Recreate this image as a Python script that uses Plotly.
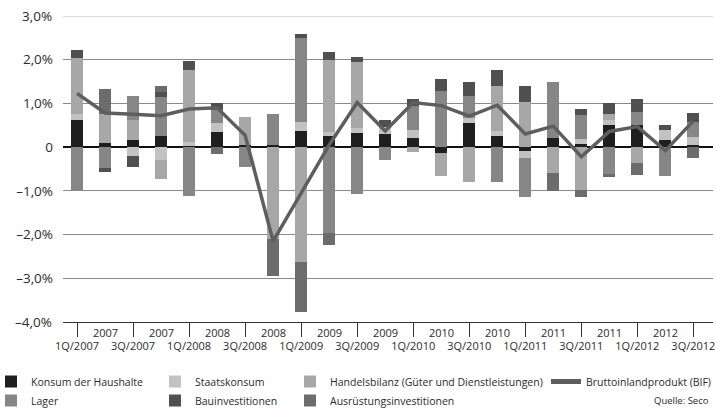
import plotly.graph_objects as go

# Quarterly contributions to Swiss GDP growth (percentage points)
quarters = [
    "1Q/2007", "2Q/2007", "3Q/2007", "4Q/2007",
    "1Q/2008", "2Q/2008", "3Q/2008", "4Q/2008",
    "1Q/2009", "2Q/2009", "3Q/2009", "4Q/2009",
    "1Q/2010", "2Q/2010", "3Q/2010", "4Q/2010",
    "1Q/2011", "2Q/2011", "3Q/2011", "4Q/2011",
    "1Q/2012", "2Q/2012", "3Q/2012",
]
year_labels = ["2007", "2007", "2008", "2008", "2009", "2009",
               "2010", "2010", "2011", "2011", "2012"]

konsum = [0.63, 0.10, 0.17, 0.25, 0.03, 0.35, 0.06, 0.06, 0.37, 0.25, 0.32, 0.29,
          0.21, -0.13, 0.56, 0.25, -0.09, 0.20, 0.08, 0.50, 0.50, 0.17, 0.05]
staat = [0.12, 0.00, -0.20, -0.30, 0.08, 0.20, 0.00, 0.00, 0.20, 0.10, 0.12, 0.16,
         0.19, 0.00, 0.10, 0.12, -0.16, 0.00, 0.10, 0.13, 0.00, 0.22, 0.19]
handel = [1.30, 0.65, 0.45, -0.43, 1.66, 0.00, 0.64, -2.11, -2.63, 1.65, 1.50, 0.00,
          -0.10, -0.52, -0.80, 1.03, 1.03, -0.60, -0.98, 0.12, -0.36, 0.00, 0.00]
lager = [-1.00, -0.47, 0.55, 0.90, -1.12, 0.30, -0.45, 0.69, 1.92, -1.96, -1.08, -0.30,
         0.54, 1.28, 0.50, -0.80, -0.90, 1.30, 0.55, -0.62, 0.30, -0.66, 0.34]
bau = [0.17, -0.09, -0.25, 0.11, 0.21, 0.15, 0.00, 0.00, 0.09, 0.17, 0.12, 0.17,
       0.17, 0.28, 0.34, 0.37, 0.37, 0.00, 0.15, 0.27, 0.30, 0.12, 0.20]
ausruestung = [0.00, 0.59, 0.00, 0.14, 0.00, -0.15, 0.00, -0.84, -1.13, -0.27, 0.00, 0.00,
               0.00, 0.00, 0.00, 0.00, 0.00, -0.40, -0.15, -0.06, -0.28, 0.00, -0.24]
bip = [1.23, 0.78, 0.75, 0.72, 0.87, 0.90, 0.27, -2.15, -1.05, 0.05, 1.02, 0.37,
       1.02, 0.95, 0.71, 0.96, 0.30, 0.48, -0.22, 0.36, 0.47, -0.08, 0.60]

y_ticks = [3, 2, 1, 0, -1, -2, -3, -4]
y_tick_text = ["3,0%", "2,0%", "1,0%", "0", "–1,0%", "–2,0%", "–3,0%", "–4,0%"]

FONT = "Open Sans"
TXT = "#2b2b2b"
x = list(range(len(quarters)))

series = [
    ("Konsum der Haushalte", konsum, "#1f1f1f", "legend"),
    ("Staatskonsum", staat, "#c2c2c2", "legend2"),
    ("Handelsbilanz (Güter und Dienstleistungen)", handel, "#a7a7a7", "legend3"),
    ("Lager", lager, "#868686", "legend"),
    ("Bauinvestitionen", bau, "#505050", "legend2"),
    ("Ausrüstungsinvestitionen", ausruestung, "#6c6c6c", "legend3"),
]

fig = go.Figure()
for name, vals, color, leg in series:
    fig.add_trace(go.Bar(
        x=x, y=vals, name=name, width=0.43,
        marker=dict(color=color, line=dict(width=0)),
        legend=leg,
    ))

fig.add_trace(go.Scatter(
    x=x, y=bip, mode="lines", name="Bruttoinlandprodukt (BIF)",
    line=dict(color="#5e5e5e", width=3.5), legend="legend4",
))

# year row between the quarter ticks
for i, yl in enumerate(year_labels):
    fig.add_annotation(
        x=2 * i + 1, y=0, xref="x", yref="paper", yshift=-10,
        text=yl, showarrow=False, yanchor="middle",
        font=dict(family=FONT, size=11, color=TXT),
    )

fig.add_annotation(
    x=1, y=-0.255, xref="paper", yref="paper", xanchor="right", yanchor="middle",
    xshift=-2, text="Quelle: Seco", showarrow=False,
    font=dict(family=FONT, size=9.5, color=TXT),
)

# light rule along the top of the value range
fig.add_shape(type="line", xref="paper", yref="y", x0=0, x1=1, y0=3, y1=3,
              line=dict(color="#cfcfcf", width=1.5), layer="below")

# plot area spans 63..713 px horizontally, 16..322 px vertically
PL, PW, PB, PH = 63, 650, 322, 306


def px_x(p):
    return (p - PL) / PW


legend_common = dict(
    orientation="v", xref="paper", yref="paper",
    xanchor="left", yanchor="top", bgcolor="rgba(0,0,0,0)",
    font=dict(family=FONT, size=10.5, color=TXT),
    tracegroupgap=0, itemsizing="constant", itemwidth=30,
)
legend_y = (PB - 367) / PH

fig.update_layout(
    width=715, height=410,
    margin=dict(l=63, r=2, t=16, b=88, autoexpand=False),
    paper_bgcolor="white", plot_bgcolor="white",
    barmode="relative", bargap=0,
    font=dict(family=FONT, color=TXT),
    showlegend=True,
    legend=dict(x=px_x(-9), y=legend_y, **legend_common),
    legend2=dict(x=px_x(155), y=legend_y, **legend_common),
    legend3=dict(x=px_x(290), y=legend_y, **legend_common),
    legend4=dict(x=px_x(546), y=legend_y, **legend_common),
    xaxis=dict(
        range=[-0.5, 22.7],
        tickmode="array", tickvals=x[0::2], ticktext=quarters[0::2],
        ticks="outside", ticklen=14, tickwidth=1.2, tickcolor="#333333",
        showline=True, linecolor="#333333", linewidth=1.3,
        showgrid=False, zeroline=False, ticklabeloverflow="allow",
        tickfont=dict(family=FONT, size=11, color=TXT),
    ),
    yaxis=dict(
        range=[-4, 3],
        tickmode="array", tickvals=y_ticks[1:-1], ticktext=y_tick_text[1:-1],
        showgrid=True, gridcolor="#8a8a8a", gridwidth=1.4,
        zeroline=True, zerolinecolor="#111111", zerolinewidth=1.5,
        showline=False, ticks="", ticklabelstandoff=9,
        tickfont=dict(family=FONT, size=13.5, color=TXT),
    ),
)

# end labels of the value axis (3,0% and -4,0%)
for val, lab in [(y_ticks[0], y_tick_text[0]), (y_ticks[-1], y_tick_text[-1])]:
    fig.add_annotation(
        x=0, y=val, xref="paper", yref="y", xanchor="right", yanchor="middle",
        xshift=-9, text=lab, showarrow=False,
        font=dict(family=FONT, size=13.5, color=TXT),
    )

fig.write_html("out.html")
